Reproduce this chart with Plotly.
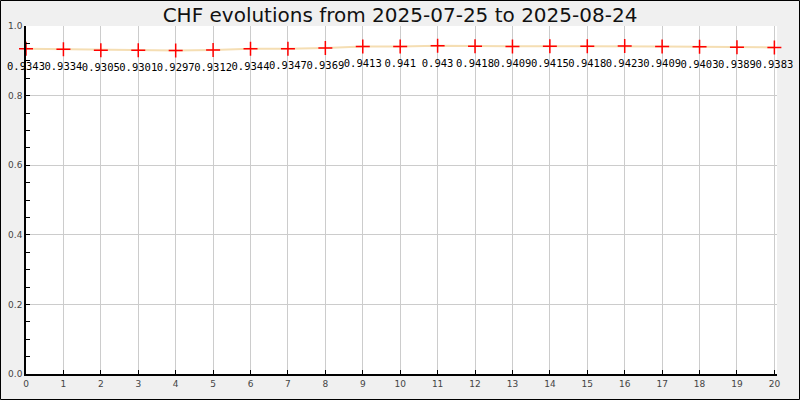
import plotly.graph_objects as go

x_index = list(range(21))
rates = [0.9343, 0.9334, 0.9305, 0.9301, 0.9297, 0.9312, 0.9344, 0.9347, 0.9369, 0.9413,
         0.941, 0.943, 0.9418, 0.9409, 0.9415, 0.9418, 0.9423, 0.9409, 0.9403, 0.9389, 0.9383]
labels = [str(v) for v in rates]
title = "CHF evolutions from 2025-07-25 to 2025-08-24"

W, H = 800, 400
ML, MR, MT, MB = 26, 23, 26, 26
PW, PH = W - ML - MR, H - MT - MB

fig = go.Figure()
fig.add_trace(go.Scatter(x=x_index, y=rates, mode="lines",
                         line=dict(color="#f5deb3", width=2), hoverinfo="skip"))
# value labels (invisible larger marker sets the text offset below the point)
fig.add_trace(go.Scatter(x=x_index, y=rates, mode="markers+text", text=labels,
                         textposition="bottom center", cliponaxis=False,
                         textfont=dict(family="DejaVu Sans Mono", size=10.5, color="black"),
                         marker=dict(size=19, opacity=0), hoverinfo="skip"))
fig.add_trace(go.Scatter(x=x_index, y=rates, mode="markers", cliponaxis=False,
                         marker=dict(symbol="cross-thin", size=10, line=dict(color="red", width=1.5))))

fig.update_layout(
    width=W, height=H,
    margin=dict(l=ML, r=MR, t=MT, b=MB, autoexpand=False),
    paper_bgcolor="#f0f0f0", plot_bgcolor="white",
    showlegend=False,
    title=dict(text=title, x=0.5, xanchor="center", y=1 - 15 / H, yanchor="middle",
               font=dict(family="DejaVu Sans", size=20, color="#111")),
    xaxis=dict(range=[0, 20.07], tickmode="linear", tick0=0, dtick=1, automargin=False,
               showgrid=True, gridcolor="#cccccc", gridwidth=1,
               showline=True, linecolor="black", linewidth=1.5,
               ticks="inside", ticklen=4, tickcolor="black",
               tickfont=dict(family="DejaVu Sans", size=9, color="#444"),
               zeroline=False, fixedrange=True),
    yaxis=dict(range=[0, 1], tickmode="linear", tick0=0, dtick=0.2, tickformat=".1f", automargin=False,
               showgrid=True, gridcolor="#cccccc", gridwidth=1,
               showline=True, linecolor="black", linewidth=1.5,
               ticks="inside", ticklen=4, tickcolor="black",
               minor=dict(dtick=0.05, ticks="inside", ticklen=4, tickcolor="black", showgrid=False),
               tickfont=dict(family="DejaVu Sans", size=9, color="#444"),
               zeroline=False, fixedrange=True),
)

fig.add_shape(type="rect", xref="paper", yref="paper",
              x0=(0.5 - ML) / PW, x1=(W - 0.5 - ML) / PW,
              y0=-(MB - 0.5) / PH, y1=1 + (MT - 0.5) / PH,
              line=dict(color="black", width=1), fillcolor="rgba(0,0,0,0)", layer="above")

fig.write_html("out.html", config={"displayModeBar": False},
               post_script="document.body.style.margin='0';document.body.style.padding='0';")
